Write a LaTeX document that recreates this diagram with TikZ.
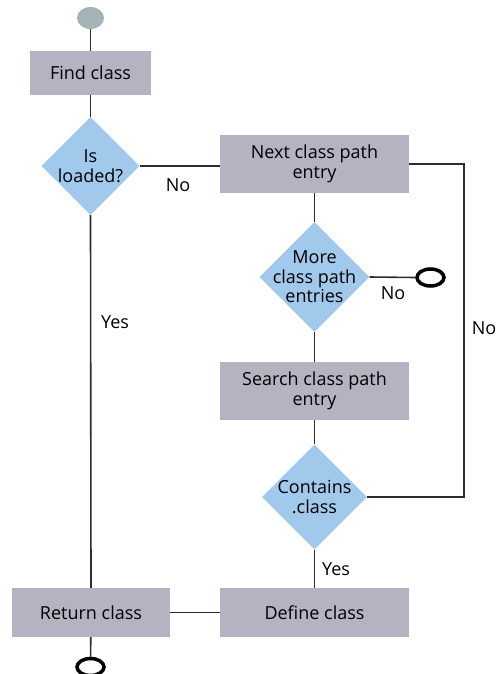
\documentclass[tikz,border=0pt]{standalone}
\usepackage{fontspec}
\setmainfont{Open Sans}
\usetikzlibrary{shapes.geometric,calc}
\definecolor{boxGray}{RGB}{179,179,194}
\definecolor{askBlue}{RGB}{160,201,235}
\definecolor{startGray}{RGB}{165,178,182}
\definecolor{lineDark}{RGB}{45,45,45}

\tikzset{
  step box/.style={rectangle,fill=boxGray,inner sep=2pt,align=center,
    font=\fontsize{18}{19.5}\selectfont},
  ask/.style={diamond,fill=askBlue,inner sep=0pt,minimum width=#1,minimum height=#1},
  ask text/.style={align=center,font=\fontsize{18}{19.5}\selectfont},
  stop/.style={ellipse,draw=black,line width=3.5pt,minimum width=27pt,minimum height=17pt,inner sep=0pt},
  link/.style={draw=lineDark,line width=1.6pt},
  tag/.style={font=\fontsize{18}{19.5}\selectfont}
}

\begin{document}
\begin{tikzpicture}[x=1pt,y=-1pt]

% canvas
\useasboundingbox (0,0) rectangle (498,674);

% start point
\node[ellipse,fill=startGray,minimum width=27pt,minimum height=22pt,inner sep=0pt] (start) at (90.5,18) {};

% left column
\node[step box,minimum width=121pt,minimum height=44pt] (find) at (90.5,73) {Find class};
\node[ask=98pt,label={[ask text]center:Is\\loaded?}] (loaded) at (90.5,166) {};
\node[step box,minimum width=158pt,minimum height=49pt] (return) at (91,612.5) {Return class};
\node[stop] (endB) at (90.5,667) {};

% right column
\node[step box,minimum width=189pt,minimum height=58pt] (next) at (314.5,164) {Next class path\\entry};
\node[ask=110pt,label={[ask text]center:More\\class path\\entries}] (more) at (314.5,277) {};
\node[stop] (endA) at (430.5,277.5) {};
\node[step box,minimum width=189pt,minimum height=58pt] (search) at (314.5,391) {Search class path\\entry};
\node[ask=105pt,label={[ask text]center:Contains\\.class}] (contains) at (314.5,497) {};
\node[step box,minimum width=189pt,minimum height=49pt] (define) at (314.5,612.5) {Define class};

\coordinate (rt) at (464,0);

% connectors
\draw[link] (start) -- (find);
\draw[link] (find) -- (loaded);
\draw[link] (loaded.east) -- (loaded.east -| next.west);
\draw[link] (loaded.south) -- (return.north);
\draw[link] (next) -- (more);
\draw[link] (more.east) -- (endA.west);
\draw[link] (more) -- (search);
\draw[link] (search) -- (contains);
\draw[link] (next.east) -| (rt |- contains.east) -- (contains.east);
\draw[link] (contains) -- (define);
\draw[link] (define) -- (return);
\draw[link] (return) -- (endB);

% branch labels
\node[tag] (noA) at (178,185) {No};
\node[tag] (noB) at (393,293) {No};
\node[tag] (noC) at (484,328) {No};
\node[tag] (yesA) at (115,322) {Yes};
\node[tag] (yesB) at (336,569) {Yes};

\end{tikzpicture}
\end{document}
